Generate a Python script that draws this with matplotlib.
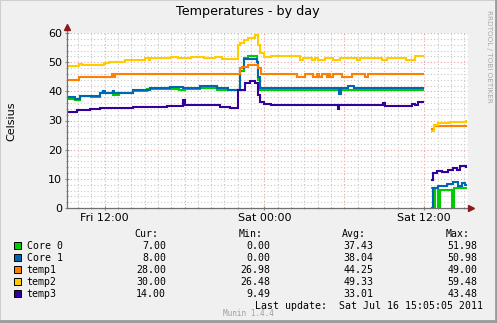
import numpy as np
import matplotlib
matplotlib.use("Agg")
import matplotlib.pyplot as plt
from matplotlib.patches import Rectangle

nan = np.nan

# hours counted from Fri 00:00; the day graph covers the last 30 hours
t_start, t_end = 9.18, 39.28
tick_hours = [12, 24, 36]
tick_labels = ["Fri 12:00", "Sat 00:00", "Sat 12:00"]

# Core 0
core0_t = [9.18, 9.8, 10.18, 11.0, 11.68, 12.6, 13.1, 14.15, 15.2, 17.6, 18.0, 19.18,
           20.45, 21.28, 22.13, 22.43, 22.8, 23.45, 23.55, 23.68, 35.9,
           36.58, 36.7, 36.77, 37.05, 37.18, 38.05, 38.25, 39.1]
core0_v = [37.5, 37.2, 38.3, 38.0, 39.3, 38.7, 39.3, 40.2, 40.7, 40.3, 40.8, 41.3,
           40.6, 40.3, 47.0, 51.5, 51.98, 50.0, 44.0, 40.5, nan,
           7.0, 0.0, 7.0, 0.0, 6.3, 0.0, 7.0, 7.0]

# Core 1
core1_t = [9.18, 9.8, 10.18, 11.68, 11.9, 12.05, 12.65, 12.73, 14.15, 15.43, 16.9,
           17.9, 19.18, 20.45, 21.28, 22.13, 22.43, 23.45, 23.55, 23.68, 29.6,
           29.75, 30.3, 30.7, 35.9,
           36.58, 36.68, 37.05, 37.68, 38.18, 38.55, 38.8, 39.05, 39.1]
core1_v = [38.0, 37.5, 38.5, 39.3, 40.0, 39.3, 40.0, 39.3, 40.5, 41.0, 41.6,
           41.0, 42.0, 41.0, 40.5, 48.0, 50.98, 50.0, 45.0, 41.3, 39.0,
           41.3, 42.0, 41.3, nan,
           0.0, 7.0, 7.5, 8.2, 9.0, 7.5, 8.7, 8.0, 8.0]

# temp1
temp1_t = [9.18, 10.05, 12.55, 12.68, 12.8, 22.13, 22.3, 22.8, 23.55, 23.73,
           26.43, 27.05, 27.68, 27.93, 28.13, 28.3, 28.68, 28.8, 28.93, 29.18,
           29.8, 30.55, 31.55, 31.8, 35.9,
           36.58, 36.7, 39.1]
temp1_v = [44.0, 45.0, 46.0, 45.0, 46.0, 48.0, 48.5, 49.0, 48.0, 46.0,
           45.0, 46.0, 45.0, 46.0, 45.0, 46.0, 45.0, 46.0, 45.0, 46.0,
           45.0, 46.0, 45.0, 46.0, nan,
           26.98, 28.0, 28.0]

# temp2
temp2_t = [9.18, 10.05, 10.3, 11.93, 12.3, 13.55, 14.68, 15.0, 15.3, 15.43, 17.0,
           17.5, 18.5, 19.5, 20.3, 20.8, 22.05, 22.18, 22.43, 22.8, 23.3, 23.55,
           23.68, 23.93, 24.5, 26.67, 26.92, 27.55, 27.8, 28.05, 28.55, 29.18,
           29.68, 30.93, 31.18, 32.85, 33.2, 34.6, 35.3, 35.9,
           36.58, 36.7, 37.05, 37.93, 39.1]
temp2_v = [48.7, 49.4, 49.2, 49.8, 50.0, 50.6, 50.9, 51.4, 50.9, 51.4, 51.8,
           51.3, 51.8, 51.3, 51.8, 51.0, 55.9, 56.5, 57.6, 58.4, 59.48, 55.9,
           53.0, 51.7, 52.0, 50.8, 51.4, 50.8, 51.4, 50.8, 51.4, 50.8,
           51.4, 50.8, 51.4, 50.8, 51.4, 50.8, 52.2, nan,
           26.48, 28.5, 29.0, 29.6, 30.0]

# temp3
temp3_t = [9.18, 9.93, 10.93, 11.68, 14.15, 16.7, 17.9, 18.0, 20.68, 21.43,
           22.05, 22.55, 22.9, 23.3, 23.55, 23.68, 23.93, 24.5, 29.5, 29.6,
           32.9, 33.05, 35.08, 35.3, 35.5, 35.9,
           36.58, 36.68, 36.93, 37.3, 37.8, 38.18, 38.43, 38.68, 39.1]
temp3_v = [33.0, 33.6, 34.0, 34.2, 34.7, 35.0, 37.0, 35.3, 34.6, 34.2,
           40.4, 42.7, 43.48, 43.0, 38.7, 36.4, 35.6, 35.3, 34.1, 35.3,
           35.9, 35.0, 35.8, 35.3, 36.2, nan,
           9.49, 11.9, 12.7, 12.5, 13.1, 13.7, 12.9, 14.3, 14.0]

names = ["Core 0", "Core 1", "temp1", "temp2", "temp3"]
colors = ["#00CC00", "#0066B3", "#FF8000", "#FFCC00", "#330099"]
series = [(core0_t, core0_v), (core1_t, core1_v), (temp1_t, temp1_v),
          (temp2_t, temp2_v), (temp3_t, temp3_v)]
cur = ["7.00", "8.00", "28.00", "30.00", "14.00"]
mins = ["0.00", "0.00", "26.98", "26.48", "9.49"]
avgs = ["37.43", "38.04", "44.25", "49.33", "33.01"]
maxs = ["51.98", "50.98", "49.00", "59.48", "43.48"]

W, H = 497, 323
fig = plt.figure(figsize=(W / 100, H / 100), dpi=100, facecolor="#F0F0F0")


def fx(px):
    return px / W


def fy(py):
    return 1 - py / H


# frame around the image
fig.patches.append(Rectangle((0, 0), 1, 1, transform=fig.transFigure,
                             fill=False, edgecolor="#CFCFCF", lw=1.5))
fig.lines.append(plt.Line2D([fx(1), fx(496)], [fy(321), fy(321)], transform=fig.transFigure,
                            color="#9A9A9A", lw=2))
fig.lines.append(plt.Line2D([fx(495.5), fx(495.5)], [fy(1), fy(322)], transform=fig.transFigure,
                            color="#9A9A9A", lw=2))

ax = fig.add_axes([fx(67), fy(208), fx(468 - 67), (208 - 33) / H])
ax.set_facecolor("white")
ax.set_xlim(t_start, t_end)
ax.set_ylim(0, 60)

# grid: minor every hour / 2 degrees, major every 6 hours / 10 degrees
minor_style = dict(color="#C8C8C8", lw=0.8, ls=(0, (1, 2)), zorder=1)
major_style = dict(color="#F2A0A0", lw=0.8, ls=(0, (1, 2)), zorder=1)
for h in range(10, 40):
    ax.axvline(h, **(major_style if h % 6 == 0 else minor_style))
for v in range(2, 61, 2):
    ax.axhline(v, **(major_style if v % 10 == 0 else minor_style))

for (t, v), c in zip(series, colors):
    ax.plot(t, v, color=c, lw=1.5, drawstyle="steps-post", zorder=3,
            solid_joinstyle="miter")

for s in ax.spines.values():
    s.set_visible(False)

ax.set_xticks(tick_hours)
ax.set_xticklabels(tick_labels)
ax.set_xticks(range(10, 40), minor=True)
ax.set_yticks(range(0, 61, 10))
ax.set_yticks(range(0, 61, 2), minor=True)
ax.tick_params(which="major", length=3, direction="inout", color="#8A8A8A",
               labelsize=8, pad=2)
ax.tick_params(which="minor", length=2, direction="inout", color="#8A8A8A")

# axes with arrow heads
ax.plot([0, 0], [0, 1.03], transform=ax.transAxes, color="#707070", lw=0.9,
        clip_on=False, zorder=4)
ax.plot([0, 1.0], [0, 0], transform=ax.transAxes, color="#707070", lw=0.9,
        clip_on=False, zorder=4)
ax.plot([0], [1.035], transform=ax.transAxes, marker="^", ms=4.5, color="#8B1A1A",
        clip_on=False, zorder=5)
ax.plot([1.008], [0], transform=ax.transAxes, marker=">", ms=4.5, color="#8B1A1A",
        clip_on=False, zorder=5)

fig.text(fx(248), fy(12), "Temperatures - by day", ha="center", va="center", fontsize=9.2)
fig.text(fx(11), fy(121), "Celsius", rotation=90, ha="center", va="center", fontsize=8)
fig.text(fx(488.5), fy(56), "RRDTOOL / TOBI OETIKER", rotation=270, ha="center",
         va="center", fontsize=5.2, color="#A8A8A8")

# legend table
mono = dict(family="DejaVu Sans Mono", fontsize=7.1, va="center")
header_y = 234
row_y = [245.7, 257.7, 269.7, 281.7, 293.7]
for label, right in zip(["Cur:", "Min:", "Avg:", "Max:"], [158.5, 262.5, 366, 469.5]):
    fig.text(fx(right), fy(header_y), label, ha="right", **mono)
for i, name in enumerate(names):
    y = row_y[i]
    fig.patches.append(Rectangle((fx(13.5), fy(y + 3.7)), 7 / W, 7 / H,
                                 transform=fig.transFigure, facecolor=colors[i],
                                 edgecolor="black", lw=0.7))
    fig.text(fx(26.7), fy(y), name, ha="left", **mono)
    for col, right in zip([cur, mins, avgs, maxs], [166, 270, 373.5, 477.5]):
        fig.text(fx(right), fy(y), col[i], ha="right", **mono)

fig.text(fx(483), fy(305.7), "Last update:  Sat Jul 16 15:05:05 2011", ha="right", **mono)
fig.text(fx(248.5), fy(313.5), "Munin 1.4.4", ha="center", va="center",
         family="DejaVu Sans Mono", fontsize=5.6, color="#A0A0A0")

fig.savefig("out.png", dpi=100, facecolor=fig.get_facecolor())
